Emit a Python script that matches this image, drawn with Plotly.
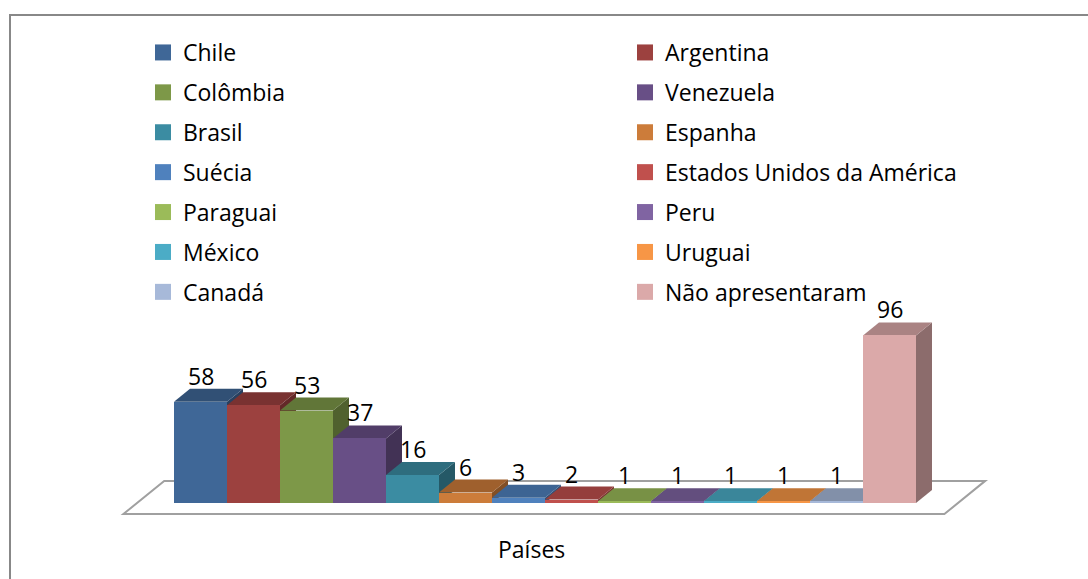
import plotly.graph_objects as go

# ---- data -------------------------------------------------------------
paises = [
    "Chile", "Argentina", "Colômbia", "Venezuela", "Brasil", "Espanha",
    "Suécia", "Estados Unidos da América", "Paraguai", "Peru", "México",
    "Uruguai", "Canadá", "Não apresentaram",
]
valores = [58, 56, 53, 37, 16, 6, 3, 2, 1, 1, 1, 1, 1, 96]
cores = [
    "#3F6797", "#9C413F", "#7D9848", "#684F86", "#3B8CA2", "#CC7C3A",
    "#4F81BD", "#C0504D", "#9BBB59", "#8064A2", "#4BACC6", "#F79646",
    "#A7B9D9", "#DBA9A9",
]
titulo_eixo = "Países"

# ---- geometry ----------------------------------------------------------
W, H = 1088, 579
PX_CAT = 53.0          # pixels per category
PX_VAL = 1.745         # pixels per unit of value
LEFT_PX = 174.0        # left edge of first column
BASE_PX = 503.0        # baseline of the column fronts

x_lo = -0.5 - LEFT_PX / PX_CAT
x_hi = x_lo + W / PX_CAT
y_hi = BASE_PX / PX_VAL
y_lo = y_hi - H / PX_VAL

DX = 16.0 / PX_CAT     # depth offset (right)
DY = 13.0 / PX_VAL     # depth offset (up)

FONT = "Open Sans"
FS_LEG = 23
FS_LBL = 23


def shade(hexcol, k):
    h = hexcol.lstrip("#")
    r, g, b = (int(h[i:i + 2], 16) for i in (0, 2, 4))
    return "rgb({},{},{})".format(int(r * k), int(g * k), int(b * k))


def poly(pts):
    return "M " + " L ".join("{:.4f},{:.4f}".format(x, y) for x, y in pts) + " Z"


shapes = []

# floor
n = len(valores)
fa = -0.85
fb = 1.70
xa = -0.5 - 37.0 / PX_CAT
xb = (n - 0.5) + 42.0 / PX_CAT
floor_pts = [
    (xa + fa * DX, fa * DY), (xb + fa * DX, fa * DY),
    (xb + fb * DX, fb * DY), (xa + fb * DX, fb * DY),
]
shapes.append(dict(type="path", xref="x", yref="y", layer="below",
                   path=poly(floor_pts), fillcolor="white",
                   line=dict(color="#A0A0A0", width=2)))

# column sides and tops, painted left to right
for i, (v, c) in enumerate(zip(valores, cores)):
    L, R = i - 0.5, i + 0.5
    side = [(R, 0), (R + DX, DY), (R + DX, v + DY), (R, v)]
    top = [(L, v), (R, v), (R + DX, v + DY), (L + DX, v + DY)]
    shapes.append(dict(type="path", xref="x", yref="y", layer="below",
                       path=poly(side), fillcolor=shade(c, 0.64),
                       line=dict(width=0)))
    shapes.append(dict(type="path", xref="x", yref="y", layer="below",
                       path=poly(top), fillcolor=shade(c, 0.78),
                       line=dict(width=0)))

# outer frame
shapes.append(dict(type="rect", xref="paper", yref="paper",
                   x0=10.0 / W, x1=1.2, y0=-0.2, y1=1 - 15.0 / H,
                   line=dict(color="#888888", width=2), fillcolor="rgba(0,0,0,0)",
                   layer="above"))

fig = go.Figure()

# column fronts
fig.add_trace(go.Bar(
    x=list(range(n)), y=valores, width=1.0,
    marker=dict(color=cores, line=dict(width=0)),
    showlegend=False, hovertext=paises, hoverinfo="text+y",
))

# legend entries (two columns)
for i, (p, c) in enumerate(zip(paises, cores)):
    fig.add_trace(go.Scatter(
        x=[None], y=[None], mode="markers", name=p,
        marker=dict(symbol="square", size=16, color=c, line=dict(width=0)),
        legend="legend" if i % 2 == 0 else "legend2",
        legendgroup="g{}".format(i), hoverinfo="skip",
    ))

annotations = []
for i, v in enumerate(valores):
    annotations.append(dict(x=i, y=v, xref="x", yref="y", text=str(v),
                            showarrow=False, yshift=26, yanchor="middle",
                            font=dict(family=FONT, size=FS_LBL, color="black")))
annotations.append(dict(x=531.0 / W, y=1 - 549.0 / H, xref="paper", yref="paper",
                        text=titulo_eixo, showarrow=False,
                        xanchor="center", yanchor="middle",
                        font=dict(family=FONT, size=FS_LEG, color="black")))

leg_common = dict(
    xanchor="left", yanchor="top", bgcolor="rgba(0,0,0,0)",
    font=dict(family=FONT, size=FS_LEG, color="black"),
    tracegroupgap=7, traceorder="grouped", orientation="v",
)

fig.update_layout(
    width=W, height=H,
    margin=dict(l=0, r=0, t=0, b=0),
    paper_bgcolor="white", plot_bgcolor="white",
    xaxis=dict(range=[x_lo, x_hi], visible=False, fixedrange=True),
    yaxis=dict(range=[y_lo, y_hi], visible=False, fixedrange=True),
    shapes=shapes, annotations=annotations,
    legend=dict(x=(158.0 - 15.0) / W, y=1 - 31.0 / H, **leg_common),
    legend2=dict(x=(643.0 - 18.0) / W, y=1 - 31.0 / H, **leg_common),
    bargap=0,
)

fig.write_html("out.html")
